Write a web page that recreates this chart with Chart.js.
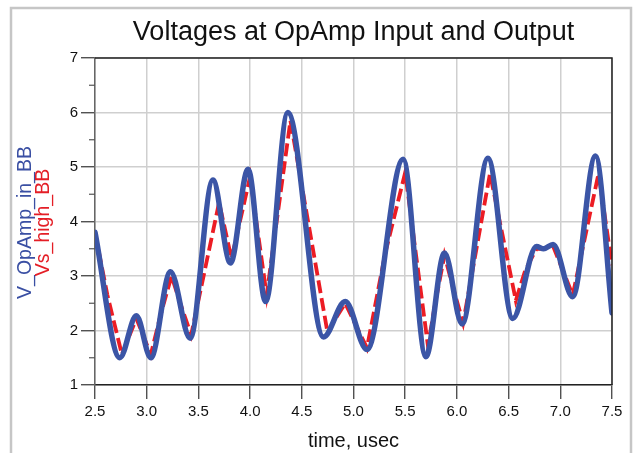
<!DOCTYPE html>
<html>
<head>
<meta charset="utf-8">
<script src="https://cdn.jsdelivr.net/npm/chart.js@4"></script>
<style>
  html, body { margin: 0; padding: 0; background: #fff; }
</style>
</head>
<body>
<canvas id="voltChart" width="634" height="453"></canvas>
<script>
// time axis, usec
const xTicks = [2.5, 3.0, 3.5, 4.0, 4.5, 5.0, 5.5, 6.0, 6.5, 7.0, 7.5];
const yTicks = [1, 2, 3, 4, 5, 6, 7];

// V_OpAmp_in_BB (blue, smooth) - turning points
const inTime = [2.50, 2.74, 2.90, 3.04, 3.23, 3.42, 3.64, 3.81, 3.98, 4.15, 4.365, 4.71, 4.92,
    5.13, 5.48, 5.70, 5.88, 6.05, 6.30, 6.54, 6.77, 6.84, 6.93, 7.12, 7.34, 7.50];
const inVolts = [3.80, 1.50, 2.27, 1.50, 3.08, 1.86, 4.76, 3.24, 4.96, 2.53, 6.00, 1.88, 2.53,
    1.65, 5.14, 1.52, 3.42, 2.12, 5.16, 2.22, 3.54, 3.50, 3.58, 2.62, 5.20, 2.32];

// Vs_high_BB (red, dashed, piecewise linear)
const highTime = [2.50, 2.62, 2.76, 2.90, 3.04, 3.135, 3.24, 3.33, 3.43, 3.70, 3.82, 4.00,
    4.16, 4.39, 4.75, 4.82, 4.92, 5.025, 5.13, 5.305, 5.50, 5.72, 5.79, 5.88, 5.965, 6.06, 6.32,
    6.57, 6.66, 6.77, 6.84, 6.93, 7.025, 7.12, 7.37, 7.50];
const highVolts = [3.80, 2.65, 1.56, 2.22, 1.56, 2.29, 3.00, 2.47, 1.92, 4.35, 3.32, 4.82,
    2.65, 5.85, 1.95, 2.20, 2.50, 2.09, 1.68, 3.40, 4.90, 1.72, 2.50, 3.38, 2.77, 2.14, 4.88,
    2.55, 3.10, 3.50, 3.50, 3.55, 3.10, 2.65, 4.88, 3.20];

const toPoints = (ts, vs) => ts.map((t, i) => ({ x: t, y: vs[i] }));

const FONT = 'Liberation Sans, Arial, sans-serif';

// title, axis labels, frame and minor ticks
const decor = {
    id: 'decor',
    beforeDraw(chart) {
        const ctx = chart.ctx;
        ctx.save();
        ctx.fillStyle = '#fff';
        ctx.fillRect(0, 0, chart.width, chart.height);
        ctx.strokeStyle = '#c6c6c6';
        ctx.lineWidth = 2.5;
        ctx.beginPath();
        ctx.moveTo(11, chart.height);
        ctx.lineTo(11, 8);
        ctx.lineTo(631, 8);
        ctx.lineTo(631, chart.height);
        ctx.stroke();
        ctx.restore();
    },
    afterDraw(chart) {
        const ctx = chart.ctx;
        const area = chart.chartArea;
        const ys = chart.scales.y;
        ctx.save();
        // top and right border
        ctx.strokeStyle = '#222';
        ctx.lineWidth = 1.5;
        ctx.beginPath();
        ctx.moveTo(area.left, area.top);
        ctx.lineTo(area.right, area.top);
        ctx.lineTo(area.right, area.bottom);
        ctx.stroke();
        // minor y ticks
        ctx.strokeStyle = '#555';
        ctx.lineWidth = 1.2;
        for (let i = 0; i < yTicks.length - 1; i++) {
            const py = ys.getPixelForValue(yTicks[i] + 0.5);
            ctx.beginPath();
            ctx.moveTo(area.left - 6, py);
            ctx.lineTo(area.left, py);
            ctx.stroke();
        }
        const cx = (area.left + area.right) / 2;
        ctx.fillStyle = '#111';
        ctx.textAlign = 'center';
        ctx.textBaseline = 'alphabetic';
        ctx.font = '27px ' + FONT;
        ctx.fillText('Voltages at OpAmp Input and Output', cx, 40);
        ctx.font = '20px ' + FONT;
        ctx.fillText('time, usec', cx, 447);
        // y labels, rotated
        const cy = (area.top + area.bottom) / 2 + 1;
        ctx.translate(0, cy);
        ctx.rotate(-Math.PI / 2);
        ctx.font = '19.5px ' + FONT;
        ctx.fillStyle = '#3a4fa3';
        ctx.fillText('V_OpAmp_in_BB', 0, 31);
        ctx.fillStyle = '#e41e26';
        ctx.fillText('Vs_high_BB', 0, 49);
        ctx.restore();
    }
};

const ctx = document.getElementById('voltChart').getContext('2d');
new Chart(ctx, {
    type: 'line',
    data: {
        datasets: [{
            label: 'V_OpAmp_in_BB',
            data: toPoints(inTime, inVolts),
            borderColor: '#3b55a6',
            borderWidth: 5.5,
            pointRadius: 0,
            cubicInterpolationMode: 'monotone',
            borderCapStyle: 'round',
            borderJoinStyle: 'round',
            order: 1
        }, {
            label: 'Vs_high_BB',
            data: toPoints(highTime, highVolts),
            borderColor: '#ec1c24',
            borderWidth: 3.8,
            borderDash: [13, 5],
            pointRadius: 0,
            tension: 0,
            order: 2
        }]
    },
    options: {
        responsive: false,
        animation: false,
        layout: { padding: { left: 0, right: 22, top: 58, bottom: 0 } },
        plugins: {
            legend: { display: false },
            tooltip: { enabled: false }
        },
        scales: {
            x: {
                type: 'linear',
                min: 2.5,
                max: 7.5,
                afterFit: (scale) => { scale.height = 68; },
                afterBuildTicks: (scale) => { scale.ticks = xTicks.map(v => ({ value: v })); },
                ticks: {
                    callback: (v) => v.toFixed(1),
                    color: '#111',
                    font: { family: FONT, size: 15 },
                    padding: 4,
                    maxRotation: 0
                },
                grid: { color: '#cfcfcf', lineWidth: 1.5, tickColor: '#333', tickLength: 14, tickWidth: 1.2 },
                border: { color: '#222', width: 1.5 }
            },
            y: {
                min: 1,
                max: 7,
                afterFit: (scale) => { scale.width = 95; },
                afterBuildTicks: (scale) => { scale.ticks = yTicks.map(v => ({ value: v })); },
                ticks: {
                    color: '#111',
                    font: { family: FONT, size: 15 },
                    padding: 3
                },
                grid: { color: '#cfcfcf', lineWidth: 1.5, tickColor: '#333', tickLength: 14, tickWidth: 1.2 },
                border: { color: '#666', width: 1.5 }
            }
        }
    },
    plugins: [decor]
});
</script>
</body>
</html>
